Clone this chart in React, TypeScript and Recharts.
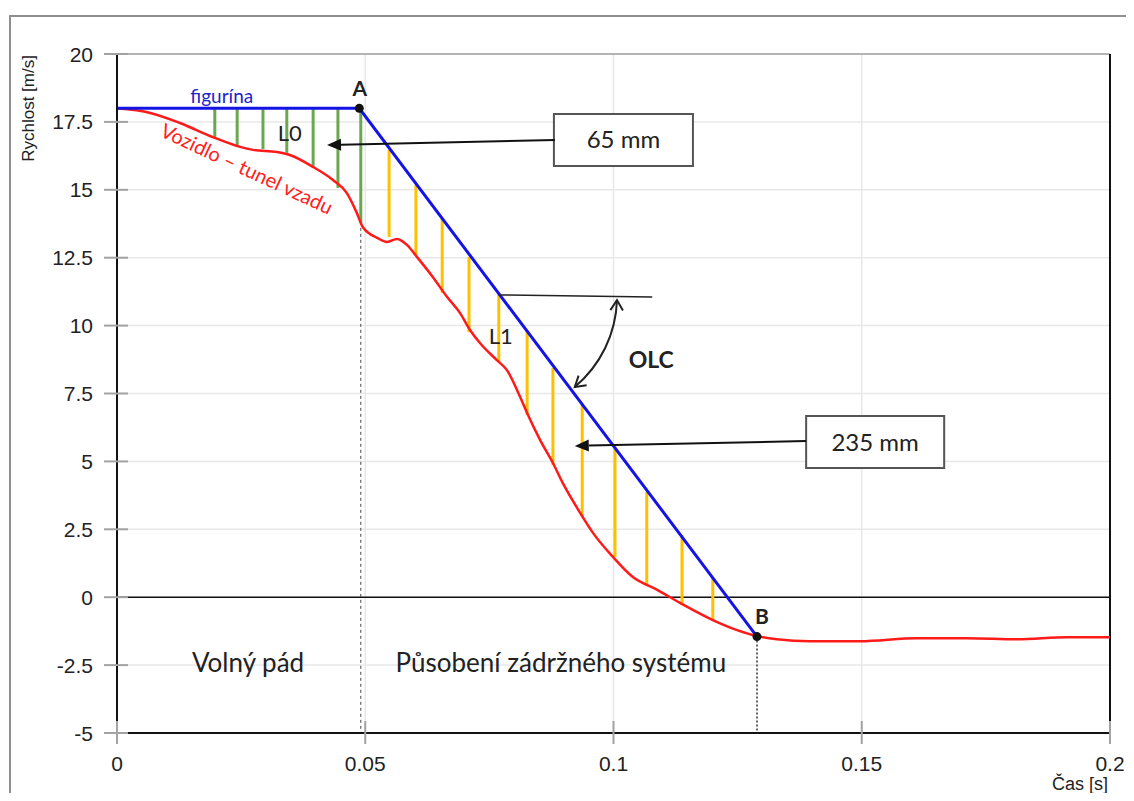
import React from 'react';
import {
  LineChart,
  Line,
  XAxis,
  YAxis,
  CartesianGrid,
  ReferenceLine,
  ReferenceDot,
  ReferenceArea,
} from 'recharts';

const xTicks = [0, 0.05, 0.1, 0.15, 0.2];
const yTicks = [-5, -2.5, 0, 2.5, 5, 7.5, 10, 12.5, 15, 17.5, 20];

// figurína
const dummyT = [0, 0.0488, 0.1289];
const dummyV = [18, 18, -1.45];

// vozidlo – tunel vzadu
const carT = [
  0, 0.0067, 0.0127, 0.0193, 0.0248, 0.0274, 0.0322, 0.0348, 0.0395, 0.0435, 0.0463, 0.0483,
  0.0495, 0.0524, 0.0544, 0.0564, 0.0584, 0.0604, 0.0636, 0.0665, 0.0691, 0.0711, 0.0731,
  0.0765, 0.0785, 0.0812, 0.0826, 0.0852, 0.0878, 0.0898, 0.0933, 0.0959, 0.0999, 0.1039,
  0.1088, 0.1134, 0.12, 0.1249, 0.1289, 0.1329, 0.1396, 0.1496, 0.1611, 0.1712, 0.1813,
  0.1913, 0.2,
];
const carV = [
  18, 17.83, 17.46, 16.94, 16.58, 16.47, 16.39, 16.28, 15.84, 15.36, 14.88, 14.15,
  13.63, 13.23, 13.08, 13.19, 12.97, 12.53, 11.79, 11.05, 10.46, 9.84, 9.36,
  8.73, 8.37, 7.37, 6.78, 5.79, 4.94, 4.2, 3.1, 2.36, 1.48, 0.74,
  0.27, -0.21, -0.84, -1.21, -1.43, -1.55, -1.62, -1.62, -1.51, -1.51, -1.55,
  -1.47, -1.47,
];

// L0 hatch (green)
const greenT = [0.0197, 0.0242, 0.0294, 0.0342, 0.0395, 0.0445, 0.0491];
const greenTop = [18, 18, 18, 18, 18, 18, 18];
const greenBottom = [16.94, 16.65, 16.5, 16.36, 15.84, 15.07, 13.78];

// L1 hatch (yellow)
const yellowT = [0.0548, 0.0602, 0.0655, 0.0709, 0.0769, 0.0826, 0.0878, 0.0937, 0.1003, 0.1067, 0.1138, 0.12];
const yellowTop = [16.47, 15.18, 13.96, 12.53, 11.2, 9.84, 8.44, 7.08, 5.53, 3.87, 2.29, 0.71];
const yellowBottom = [13.26, 12.6, 11.2, 9.76, 8.66, 6.71, 4.87, 2.95, 1.48, 0.45, -0.29, -0.84];

const dummyData = dummyT.map((t, i) => ({ t, v: dummyV[i] }));
const carData = carT.map((t, i) => ({ t, v: carV[i] }));

const NOTE_FONT = 'Lato, "Open Sans", sans-serif';
const AXIS_FONT = '"Liberation Sans", Arial, sans-serif';
const TICK_GRAY = '#a3a3a3';

// y tick: gray cross line over the axis + label
const YTick = (p: any) => {
  const ax = p.x + 24;
  return (
    <g>
      <line x1={ax - 13} x2={ax + 11} y1={p.y} y2={p.y} stroke={TICK_GRAY} strokeWidth={2} />
      <text x={p.x} y={p.y} textAnchor="end" dominantBaseline="central" fontSize={21} fill="#222" fontFamily={AXIS_FONT}>
        {p.payload.value}
      </text>
    </g>
  );
};

// x tick: gray cross line over the axis + label
const XTick = (p: any) => {
  const ay = p.y - 22;
  return (
    <g>
      <line x1={p.x} x2={p.x} y1={ay - 12} y2={ay + 11} stroke={TICK_GRAY} strokeWidth={2} />
      <text x={p.x} y={p.y} textAnchor="middle" dy="0.75em" fontSize={21} fill="#222" fontFamily={AXIS_FONT}>
        {p.payload.value}
      </text>
    </g>
  );
};

// straight arrow with filled head at (x2, y2)
const Arrow = (p: any) => {
  const { x1, y1, x2, y2 } = p;
  const a = Math.atan2(y2 - y1, x2 - x1);
  const len = 14;
  const w = 6;
  const bx = x2 - len * Math.cos(a);
  const by = y2 - len * Math.sin(a);
  const pts = `${x2},${y2} ${bx - w * Math.sin(a)},${by + w * Math.cos(a)} ${bx + w * Math.sin(a)},${by - w * Math.cos(a)}`;
  return (
    <g>
      <line x1={x1} y1={y1} x2={bx} y2={by} stroke="#111" strokeWidth={2} />
      <polygon points={pts} fill="#111" />
    </g>
  );
};

// curved double arrow for the OLC angle
const ArcArrow = (p: any) => {
  const { x1, y1, x2, y2 } = p;
  const r = 118;
  const ux = x2 - x1;
  const uy = y2 - y1;
  const d = Math.hypot(ux, uy);
  const h = Math.sqrt(Math.max(r * r - (d / 2) * (d / 2), 0));
  const cx = (x1 + x2) / 2 + (h * -uy) / d;
  const cy = (y1 + y2) / 2 + (h * ux) / d;
  const head = (px: number, py: number, dx: number, dy: number) => {
    const a = Math.atan2(dy, dx);
    const l = 12;
    const s = 0.55;
    return `M${px - l * Math.cos(a - s)},${py - l * Math.sin(a - s)} L${px},${py} L${px - l * Math.cos(a + s)},${py - l * Math.sin(a + s)}`;
  };
  // tangent (clockwise) at each end
  const t1x = -(y1 - cy);
  const t1y = x1 - cx;
  const t2x = -(y2 - cy);
  const t2y = x2 - cx;
  return (
    <g fill="none" stroke="#222" strokeWidth={2}>
      <path d={`M${x1},${y1} A${r},${r} 0 0 1 ${x2},${y2}`} />
      <path d={head(x1, y1, -t1x, -t1y)} />
      <path d={head(x2, y2, t2x, t2y)} />
    </g>
  );
};

const note = (txt: string, style: any, rotate = 0, anchor = 'middle', baseline = 'central') => (p: any) => (
  <text
    x={p.cx}
    y={p.cy}
    textAnchor={anchor}
    dominantBaseline={baseline}
    transform={rotate ? `rotate(${rotate} ${p.cx} ${p.cy})` : undefined}
    {...style}
  >
    {txt}
  </text>
);

export default function App() {
  return (
    <div style={{ position: 'relative', width: 1118, height: 785, background: '#fff' }}>
      <div
        style={{
          position: 'absolute',
          left: 1,
          top: 7,
          width: 1117,
          height: 778,
          boxSizing: 'border-box',
          borderLeft: '2px solid #8f8f8f',
          borderTop: '2px solid #8f8f8f',
          pointerEvents: 'none',
        }}
      />
      <LineChart width={1118} height={785} margin={{ top: 46, right: 16, bottom: 0, left: 9 }}>
        <CartesianGrid stroke="#e8e8e8" strokeWidth={1.5} />
        <XAxis
          dataKey="t"
          type="number"
          domain={[0, 0.2]}
          ticks={xTicks}
          interval={0}
          allowDataOverflow
          height={60}
          axisLine={{ stroke: '#111', strokeWidth: 2 }}
          tickLine={false}
          tickSize={8}
          tickMargin={14}
          tick={XTick}
        />
        <YAxis
          type="number"
          domain={[-5, 20]}
          ticks={yTicks}
          interval={0}
          allowDataOverflow
          width={100}
          axisLine={{ stroke: '#111', strokeWidth: 2 }}
          tickLine={false}
          tickSize={12}
          tickMargin={12}
          tick={YTick}
        />

        <ReferenceLine y={20} stroke="#a0a0a0" strokeWidth={1.5} />
        <ReferenceLine x={0.2} stroke="#111" strokeWidth={2} />
        <ReferenceLine y={0} stroke="#111" strokeWidth={1.5} />

        {greenT.map((t, i) => (
          <ReferenceLine
            key={`g${i}`}
            segment={[{ x: t, y: greenTop[i] }, { x: t, y: greenBottom[i] }]}
            stroke="#6aa84f"
            strokeWidth={3}
          />
        ))}
        {yellowT.map((t, i) => (
          <ReferenceLine
            key={`y${i}`}
            segment={[{ x: t, y: yellowTop[i] }, { x: t, y: yellowBottom[i] }]}
            stroke="#ffc000"
            strokeWidth={3}
          />
        ))}

        <ReferenceLine segment={[{ x: 0.0491, y: 13.6 }, { x: 0.0491, y: -5 }]} stroke="#444" strokeDasharray="3 3" />
        <ReferenceLine segment={[{ x: 0.1289, y: -1.45 }, { x: 0.1289, y: -5 }]} stroke="#666" strokeWidth={2} strokeDasharray="2 2" />

        <Line data={carData} dataKey="v" type="monotone" stroke="#ff1a1a" strokeWidth={2.5} dot={false} activeDot={false} isAnimationActive={false} />
        <Line data={dummyData} dataKey="v" type="linear" stroke="#1414e6" strokeWidth={3} dot={false} activeDot={false} isAnimationActive={false} />

        <ReferenceDot x={dummyT[1]} y={dummyV[1]} r={4.5} fill="#111" stroke="none" />
        <ReferenceDot x={dummyT[2]} y={dummyV[2]} r={4.5} fill="#111" stroke="none" />

        {/* OLC angle */}
        <ReferenceLine segment={[{ x: 0.0769, y: 11.13 }, { x: 0.1078, y: 11.05 }]} stroke="#222" strokeWidth={1.5} />
        <ReferenceLine segment={[{ x: 0.1007, y: 10.94 }, { x: 0.0922, y: 7.74 }]} shape={ArcArrow} />

        {/* distance boxes */}
        <ReferenceLine segment={[{ x: 0.0882, y: 16.83 }, { x: 0.0423, y: 16.65 }]} shape={Arrow} />
        <ReferenceLine segment={[{ x: 0.1388, y: 5.75 }, { x: 0.0922, y: 5.57 }]} shape={Arrow} />
        <ReferenceArea
          x1={0.088}
          x2={0.116}
          y1={15.88}
          y2={17.79}
          fill="#fff"
          fillOpacity={1}
          stroke="#555"
          strokeWidth={2}
          label={{ value: '65 mm', position: 'center', fontSize: 24, fill: '#222', fontFamily: NOTE_FONT }}
        />
        <ReferenceArea
          x1={0.1388}
          x2={0.1666}
          y1={4.76}
          y2={6.67}
          fill="#fff"
          fillOpacity={1}
          stroke="#555"
          strokeWidth={2}
          label={{ value: '235 mm', position: 'center', fontSize: 24, fill: '#222', fontFamily: NOTE_FONT }}
        />

        {/* labels */}
        <ReferenceDot x={0.0489} y={18.78} r={0} shape={note('A', { fontSize: 21, fontWeight: 700, fill: '#222', fontFamily: NOTE_FONT })} />
        <ReferenceDot x={0.1299} y={-0.66} r={0} shape={note('B', { fontSize: 21, fontWeight: 700, fill: '#222', fontFamily: NOTE_FONT })} />
        <ReferenceDot x={0.0211} y={18.49} r={0} shape={note('figurína', { fontSize: 19, fill: '#2323c8', fontFamily: NOTE_FONT })} />
        <ReferenceDot x={0.0262} y={15.8} r={0} shape={note('Vozidlo – tunel vzadu', { fontSize: 20, fill: '#ff2020', fontFamily: NOTE_FONT }, 25)} />
        <ReferenceDot x={0.0348} y={17.1} r={0} shape={note('L0', { fontSize: 22, fill: '#222', fontFamily: NOTE_FONT })} />
        <ReferenceDot x={0.0773} y={9.65} r={0} shape={note('L1', { fontSize: 22, fill: '#222', fontFamily: NOTE_FONT })} />
        <ReferenceDot x={0.1076} y={8.77} r={0} shape={note('OLC', { fontSize: 23, fontWeight: 700, fill: '#222', fontFamily: NOTE_FONT })} />
        <ReferenceDot x={0.0264} y={-2.75} r={0} shape={note('Volný pád', { fontSize: 26, fill: '#222', fontFamily: NOTE_FONT }, 0, 'middle', 'alphabetic')} />
        <ReferenceDot x={0.0894} y={-2.75} r={0} shape={note('Působení zádržného systému', { fontSize: 26, fill: '#222', fontFamily: NOTE_FONT }, 0, 'middle', 'alphabetic')} />

        {/* axis titles */}
        <ReferenceDot x={-0.0179} y={19.96} r={0} ifOverflow="visible" shape={note('Rychlost [m/s]', { fontSize: 17, fill: '#222', fontFamily: AXIS_FONT }, -90, 'end')} />
        <ReferenceDot x={0.1996} y={-7.1} r={0} ifOverflow="visible" shape={note('Čas [s]', { fontSize: 18, fill: '#222', fontFamily: AXIS_FONT }, 0, 'end', 'alphabetic')} />
      </LineChart>
    </div>
  );
}
